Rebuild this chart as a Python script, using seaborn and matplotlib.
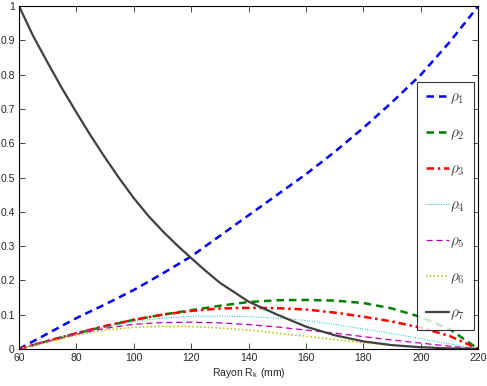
import pandas as pd
import matplotlib.pyplot as plt
import seaborn as sns

# ─── DATA ───────────────────────────────────────────────────────
RAYON = [60, 70, 80, 90, 100, 110, 120, 130, 140, 150, 160, 170, 180, 190, 200, 210, 220]
RHO1 = [0, 0.045, 0.09, 0.13, 0.172, 0.22, 0.27, 0.33, 0.39, 0.45, 0.51, 0.575, 0.645, 0.72, 0.80, 0.895, 1.0]
RHO2 = [0, 0.023, 0.045, 0.066, 0.085, 0.10, 0.113, 0.126, 0.137, 0.142, 0.143, 0.141, 0.134, 0.118, 0.093, 0.058, 0]
RHO3 = [0, 0.023, 0.046, 0.067, 0.085, 0.10, 0.111, 0.118, 0.12, 0.119, 0.115, 0.106, 0.094, 0.08, 0.062, 0.038, 0]
RHO4 = [0, 0.022, 0.044, 0.064, 0.08, 0.09, 0.095, 0.096, 0.094, 0.09, 0.083, 0.072, 0.058, 0.045, 0.03, 0.015, 0]
RHO5 = [0, 0.022, 0.043, 0.06, 0.072, 0.077, 0.078, 0.076, 0.071, 0.064, 0.055, 0.046, 0.036, 0.026, 0.017, 0.008, 0]
RHO6 = [0, 0.02, 0.04, 0.055, 0.063, 0.066, 0.065, 0.061, 0.055, 0.046, 0.037, 0.027, 0.018, 0.011, 0.006, 0.002, 0]
# rho7 read on a finer grid (strong curvature near the left edge)
RAYON7 = [60, 65, 70, 75, 80, 85, 90, 95, 100, 105, 110, 115, 120, 125, 130,
          140, 150, 160, 170, 180, 190, 200, 210, 220]
RHO7 = [1.0, 0.912, 0.835, 0.76, 0.69, 0.622, 0.558, 0.497, 0.44, 0.389, 0.344, 0.303, 0.265, 0.228, 0.193,
        0.138, 0.1, 0.065, 0.04, 0.022, 0.011, 0.005, 0.0015, 0]
LABELS = [r"$\rho_1$", r"$\rho_2$", r"$\rho_3$", r"$\rho_4$", r"$\rho_5$", r"$\rho_6$", r"$\rho_7$"]
X_TICKS = [60, 80, 100, 120, 140, 160, 180, 200, 220]
Y_TICKS = [0, 0.1, 0.2, 0.3, 0.4, 0.5, 0.6, 0.7, 0.8, 0.9, 1]
Y_TICKLABELS = ["0", "0.1", "0.2", "0.3", "0.4", "0.5", "0.6", "0.7", "0.8", "0.9", "1"]
# ────────────────────────────────────────────────────────────────

# styles: (color, linestyle, linewidth)
STYLES = [
    ((0, 0, 1), (0, (3, 2)), 1.8),
    ((0, 0.5, 0), (0, (3, 2)), 1.8),
    ((1, 0, 0), (0, (3, 1.5, 1, 1.5)), 1.8),
    ((0, 0.75, 0.75), (0, (1, 1.5)), 0.7),
    ((0.75, 0, 0.75), (0, (5, 3)), 0.9),
    ((0.75, 0.75, 0), (0, (1, 1.5)), 1.1),
    ((0.25, 0.25, 0.25), "-", 1.6),
]

sns.set_style("white")
plt.rcParams["font.family"] = ["Liberation Sans Narrow", "Liberation Sans", "DejaVu Sans"]
plt.rcParams["mathtext.fontset"] = "cm"

fig = plt.figure(figsize=(4.87, 3.86), dpi=100)
ax = fig.add_axes([0.039, 0.096, 0.943, 0.888])

xs = [RAYON] * 6 + [RAYON7]
series = [RHO1, RHO2, RHO3, RHO4, RHO5, RHO6, RHO7]
for x, vals, lab, (col, ls, lw) in zip(xs, series, LABELS, STYLES):
    df = pd.DataFrame({"x": x, "y": vals})
    sns.lineplot(data=df, x="x", y="y", ax=ax, color=col, linestyle=ls,
                 linewidth=lw, label=lab)

ax.set_xlim(60, 220)
ax.set_ylim(0, 1)
ax.set_xticks(X_TICKS)
ax.set_xticklabels([str(t) for t in X_TICKS])
ax.set_yticks(Y_TICKS)
ax.set_yticklabels(Y_TICKLABELS)
ax.tick_params(direction="in", length=4, width=0.6, labelsize=7.5,
               top=True, right=True, bottom=True, left=True, pad=3)
for sp in ax.spines.values():
    sp.set_visible(True)
    sp.set_color("black")
    sp.set_linewidth(0.8)
ax.set_xlabel(r"Rayon R$_\mathregular{k}$ (mm)", fontsize=7.5, labelpad=2)
ax.set_ylabel("")

leg = ax.legend(loc="upper right", bbox_to_anchor=(0.990, 0.78),
                fontsize=11, handlelength=1.55, handletextpad=0.05,
                labelspacing=1.33, borderpad=0.55, frameon=True,
                fancybox=False, borderaxespad=0.0)
leg.get_frame().set_edgecolor("black")
leg.get_frame().set_linewidth(0.8)
for t in leg.get_texts():
    t.set_color("#444444")

fig.savefig("out.png", dpi=100)
